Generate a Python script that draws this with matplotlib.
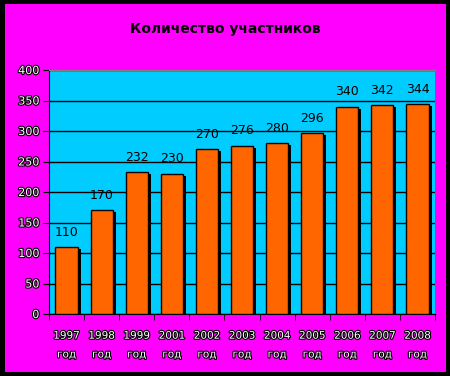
"""Bar chart: number of participants by year."""
import matplotlib
matplotlib.use("Agg")
import matplotlib.pyplot as plt
import matplotlib.patheffects as pe
from matplotlib.patches import Rectangle
from matplotlib.transforms import ScaledTranslation

years = ["1997", "1998", "1999", "2001", "2002", "2003", "2004", "2005", "2006", "2007", "2008"]
values = [110, 170, 232, 230, 270, 276, 280, 296, 340, 342, 344]
yticks = [0, 50, 100, 150, 200, 250, 300, 350, 400]

plt.rcParams["font.family"] = ["DejaVu Sans"]

DPI = 100
fig = plt.figure(figsize=(4.5, 3.76), dpi=DPI)
fig.patch.set_facecolor("black")
fig.patches.append(Rectangle((5 / 450, 4 / 376), 441 / 450, 368 / 376,
                             transform=fig.transFigure, facecolor="#FF00FF",
                             edgecolor="none", zorder=-5))

ax = fig.add_axes([49 / 450, 1 - 314 / 376, 386 / 450, 244 / 376])
ax.set_facecolor("#00CCFF")

x = list(range(len(years)))
w = 0.63
shadow = ax.transData + ScaledTranslation(3 / DPI, -2 / DPI, fig.dpi_scale_trans)
ax.bar(x, values, w, color="black", transform=shadow, zorder=2)
ax.bar(x, values, w, color="#FF6600", edgecolor="black", lw=1, zorder=3)

for xi, v in zip(x, values):
    ax.annotate(f"{v}", xy=(xi, v), xytext=(0, 6), textcoords="offset points",
                ha="center", va="bottom", fontsize=9, color="black", zorder=4)

ax.set_xlim(-0.5, len(years) - 0.5)
ax.set_ylim(0, 400)
ax.set_yticks(yticks)
ax.yaxis.grid(True, color="black", lw=1)
ax.set_axisbelow(True)

outline = [pe.withStroke(linewidth=1.6, foreground="black")]
ax.set_yticklabels([str(t) for t in yticks], fontsize=8, color="white",
                   path_effects=outline)
ax.set_xticks(x)
ax.set_xticklabels([f"{y}\nгод" for y in years], fontsize=7.5, color="white",
                   linespacing=2.1, path_effects=outline)
ax.set_xticks([i - 0.5 for i in range(len(years) + 1)], minor=True)
ax.tick_params(axis="x", which="major", length=0, pad=12)
ax.tick_params(axis="x", which="minor", length=4, color="black", direction="out")
ax.tick_params(axis="y", length=4, color="black", direction="out", pad=3)

ax.spines["right"].set_visible(False)
ax.spines["top"].set_color("#808080")
ax.spines["left"].set_color("black")
ax.spines["bottom"].set_color("black")

fig.text(0.5, 1 - 29 / 376, "Количество участников", ha="center", va="center",
         fontsize=10, fontweight="bold", color="black")

fig.savefig("out.png", dpi=DPI, facecolor=fig.get_facecolor())
